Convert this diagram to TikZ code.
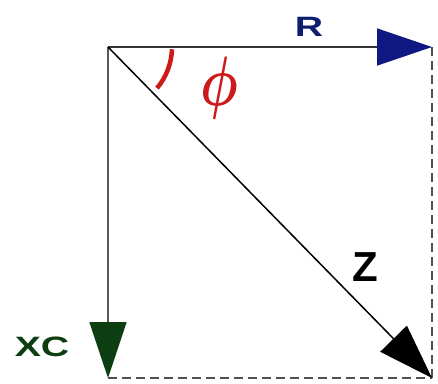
\documentclass[tikz,border=0pt]{standalone}
\usepackage{fontspec}
\usepackage{bm}
\setmainfont{Liberation Sans}
\usetikzlibrary{arrows.meta}
\definecolor{rblue}{RGB}{16,24,130}
\definecolor{rtext}{RGB}{14,30,110}
\definecolor{xgreen}{RGB}{12,62,18}
\definecolor{phired}{RGB}{205,25,25}
\definecolor{dashgray}{RGB}{80,80,80}
\tikzset{
  vec/.style={line width=1.5pt},
  dashline/.style={dashgray, line width=1.8pt, dash pattern=on 9pt off 5pt},
  lab/.style={font=\bfseries\fontsize{28}{30}\selectfont, inner sep=0pt},
}
\begin{document}
\begin{tikzpicture}[x=1pt,y=-1pt]
\useasboundingbox (0,0) rectangle (438,383);
\fill[white] (0,0) rectangle (438,383);
\coordinate (O) at (108,47);
\coordinate (R) at (432,47);
\coordinate (X) at (108,378);
\coordinate (Z) at (432,378);
\draw[dashline] (R) -- (Z);
\draw[dashline] (X) -- (Z);
\draw[vec, draw=black!80, -{Triangle[length=55pt,width=37pt,fill=rblue,color=rblue]}] (O) -- (R);
\draw[vec, draw=black!65, -{Triangle[length=56pt,width=37pt,fill=xgreen,color=xgreen]}] (O) -- (X);
\draw[vec, draw=black, -{Triangle[length=55pt,width=37pt]}] (O) -- (Z);
\draw[phired, line width=4.5pt] ([shift={(2:64)}]O) arc[start angle=2, end angle=40, radius=64];
\node[lab, text=rtext, xscale=1.4] (lR) at (309,27) {R};
\node[lab, text=xgreen, xscale=1.4] (lX) at (42,347) {XC};
\node[inner sep=0pt, font=\bfseries\fontsize{42}{44}\selectfont] (lZ) at (365,267) {Z};
\node[inner sep=0pt, text=phired, xscale=5.3, yscale=7] (lphi) at (219,88) {$\bm{\phi}$};
\end{tikzpicture}
\end{document}
